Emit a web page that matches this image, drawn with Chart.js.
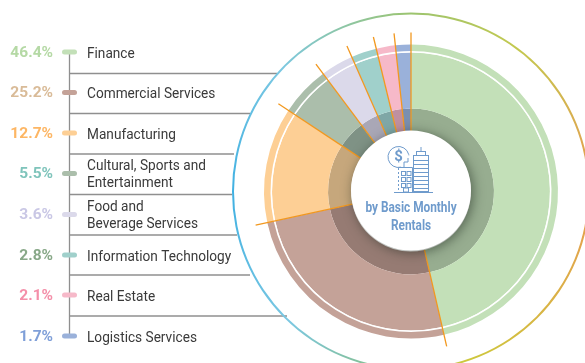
<!DOCTYPE html>
<html>
<head>
<meta charset="utf-8">
<script src="https://cdn.jsdelivr.net/npm/chart.js@4"></script>
<style>
html, body { margin: 0; padding: 0; background: #fff; overflow: hidden; }
#wrap { width: 585px; height: 363px; overflow: hidden; }
</style>
</head>
<body>
<div id="wrap"><canvas id="myChart" width="822" height="383"></canvas></div>
<script>
var categories = [['Finance'], ['Commercial Services'], ['Manufacturing'], ['Cultural, Sports and', 'Entertainment'], ['Food and', 'Beverage Services'], ['Information Technology'], ['Real Estate'], ['Logistics Services']];
var shares = [46.4, 25.2, 12.7, 5.5, 3.6, 2.8, 2.1, 1.7];
var shareLabels = ['46.4%', '25.2%', '12.7%', '5.5%', '3.6%', '2.8%', '2.1%', '1.7%'];
var sliceColors = ['#c3e0b8', '#c4a298', '#fdcf95', '#abbeab', '#dbd9ea', '#a0d0cb', '#f6b9c9', '#9ab1da'];
var innerColors = ['#97ad90', '#967b73', '#c6a77c', '#7f9285', '#a9a7b6', '#7fa7a6', '#bf90a0', '#7a8fb0'];
var labelColors = ['#b5d9a5', '#d9bb98', '#fdb664', '#7fc4bb', '#c9c7e5', '#88a888', '#f48fa9', '#7f9fd8'];
var rowY = [52, 92.5, 133, 173.5, 214.5, 255, 295, 336];
var dividerY = [73.5, 113.5, 154, 194.5, 235, 275, 316];
var dividerEnd = [277, 250, 234, 232, 237, 250, 287];

var canvas = document.getElementById('myChart');
var ctx = canvas.getContext('2d');

var ringGradient = ctx.createConicGradient(-Math.PI / 2, 411, 191.5);
ringGradient.addColorStop(0, '#9cc46f');
ringGradient.addColorStop(0.1, '#c3c94f');
ringGradient.addColorStop(0.25, '#e89a50');
ringGradient.addColorStop(0.45, '#cdc83c');
ringGradient.addColorStop(0.53, '#86bf8f');
ringGradient.addColorStop(0.62, '#7cc8e2');
ringGradient.addColorStop(0.75, '#3fb0e2');
ringGradient.addColorStop(0.87, '#7cc8e2');
ringGradient.addColorStop(1, '#9cc46f');

// squeezed text, the reference font is a narrow DIN
function narrowText(c, text, x, y, squeeze) {
    c.fillText(text, x, y, c.measureText(text).width * squeeze);
}

// left column, sits under the doughnut
const leftColumn = {
    id: 'leftColumn',
    beforeDatasetsDraw(chart) {
        const c = chart.ctx;
        c.save();
        c.strokeStyle = '#8f8f8f';
        c.lineWidth = 1.3;
        for (let i = 0; i < dividerY.length; i++) {
            c.beginPath();
            c.moveTo(69.5, dividerY[i]);
            c.lineTo(dividerEnd[i], dividerY[i]);
            c.stroke();
        }
        c.beginPath();
        c.moveTo(69.5, rowY[0]);
        c.lineTo(69.5, rowY[7]);
        c.stroke();

        c.textBaseline = 'middle';
        for (let i = 0; i < categories.length; i++) {
            c.fillStyle = sliceColors[i];
            c.beginPath();
            c.roundRect(62, rowY[i] - 2.5, 15, 5, 2.5);
            c.fill();

            c.fillStyle = labelColors[i];
            c.font = 'bold 15.5px Roboto';
            c.textAlign = 'right';
            c.fillText(shareLabels[i], 53, rowY[i] + 1);

            c.fillStyle = '#3a3a3a';
            c.font = '15px Roboto';
            c.textAlign = 'left';
            const lines = categories[i];
            if (lines.length == 1) {
                narrowText(c, lines[0], 87, rowY[i] + 2, 0.91);
            } else {
                narrowText(c, lines[0], 87, rowY[i] - 7.5, 0.91);
                narrowText(c, lines[1], 87, rowY[i] + 10, 0.91);
            }
        }
        c.restore();
    }
};

// orange spokes on slice edges, white hub and its icon
const hub = {
    id: 'hub',
    afterDatasetsDraw(chart) {
        const c = chart.ctx;
        const arcs = chart.getDatasetMeta(2).data;
        const cx = arcs[0].x, cy = arcs[0].y;
        c.save();
        c.strokeStyle = '#f2981f';
        c.lineWidth = 1.3;
        arcs.forEach(function (arc) {
            c.beginPath();
            c.moveTo(cx + 60 * Math.cos(arc.startAngle), cy + 60 * Math.sin(arc.startAngle));
            c.lineTo(cx + 159 * Math.cos(arc.startAngle), cy + 159 * Math.sin(arc.startAngle));
            c.stroke();
        });

        c.save();
        c.shadowColor = 'rgba(30,40,30,0.55)';
        c.shadowBlur = 12;
        c.shadowOffsetX = 2;
        c.shadowOffsetY = 2;
        c.fillStyle = '#fff';
        c.beginPath();
        c.arc(cx, cy - 1, 60, 0, Math.PI * 2);
        c.fill();
        c.restore();

        c.strokeStyle = '#6f9bcc';
        c.fillStyle = '#6f9bcc';
        c.lineWidth = 1;
        c.beginPath();
        c.arc(398.5, 157, 10.5, Math.PI * 0.42, Math.PI * 1.95);
        c.stroke();
        c.font = 'bold 15px Roboto';
        c.textAlign = 'center';
        c.textBaseline = 'middle';
        c.fillText('$', 398.5, 157.5);

        c.strokeRect(413.5, 155.5, 15, 36);
        for (let y = 160.5; y < 190; y += 4) {
            c.beginPath();
            c.moveTo(413.5, y);
            c.lineTo(428.5, y);
            c.stroke();
        }
        c.strokeRect(416.5, 151.5, 9, 4);
        c.beginPath();
        c.moveTo(421, 147);
        c.lineTo(421, 151);
        c.moveTo(394, 192.5);
        c.lineTo(433, 192.5);
        c.moveTo(412.5, 167.5);
        c.lineTo(398.5, 167.5);
        c.moveTo(412.5, 167.5);
        c.lineTo(412.5, 192);
        c.moveTo(404, 167);
        c.lineTo(404, 162);
        c.lineTo(408, 162);
        c.moveTo(408, 162);
        c.lineTo(408, 158);
        c.stroke();
        c.setLineDash([2, 2]);
        c.beginPath();
        c.moveTo(398.5, 168);
        c.lineTo(398.5, 192);
        c.stroke();
        c.setLineDash([]);
        for (let row = 0; row < 3; row++) {
            c.strokeRect(401.5, 171.5 + row * 6, 4, 4);
            c.strokeRect(407, 171.5 + row * 6, 4, 4);
        }
        c.strokeRect(403.5, 188, 5, 4);

        c.font = 'bold 15px Roboto';
        c.fillStyle = '#6f9bcc';
        narrowText(c, 'by Basic Monthly', 411, 208, 0.79);
        narrowText(c, 'Rentals', 411, 226, 0.79);
        c.restore();
    }
};

const data = {
    labels: categories.map(function (l) { return l.join(' '); }),
    datasets: [
        { data: [1], backgroundColor: [ringGradient], weight: 2 },
        { data: [1], backgroundColor: ['rgba(0,0,0,0)'], weight: 30 },
        { data: shares, backgroundColor: sliceColors, weight: 6.5 },
        { data: [1], backgroundColor: ['#ffffff'], weight: 1.5 },
        { data: shares, backgroundColor: sliceColors, weight: 56 },
        { data: shares, backgroundColor: innerColors, weight: 23 }
    ]
};

const config = {
    type: 'doughnut',
    data: data,
    options: {
        responsive: false,
        animation: false,
        radius: 179,
        cutout: '33.5%',
        borderWidth: 0,
        layout: { padding: 0 },
        plugins: { legend: { display: false }, tooltip: { enabled: false } }
    },
    plugins: [leftColumn, hub]
};

const myChart = new Chart(canvas, config);
</script>
</body>
</html>
